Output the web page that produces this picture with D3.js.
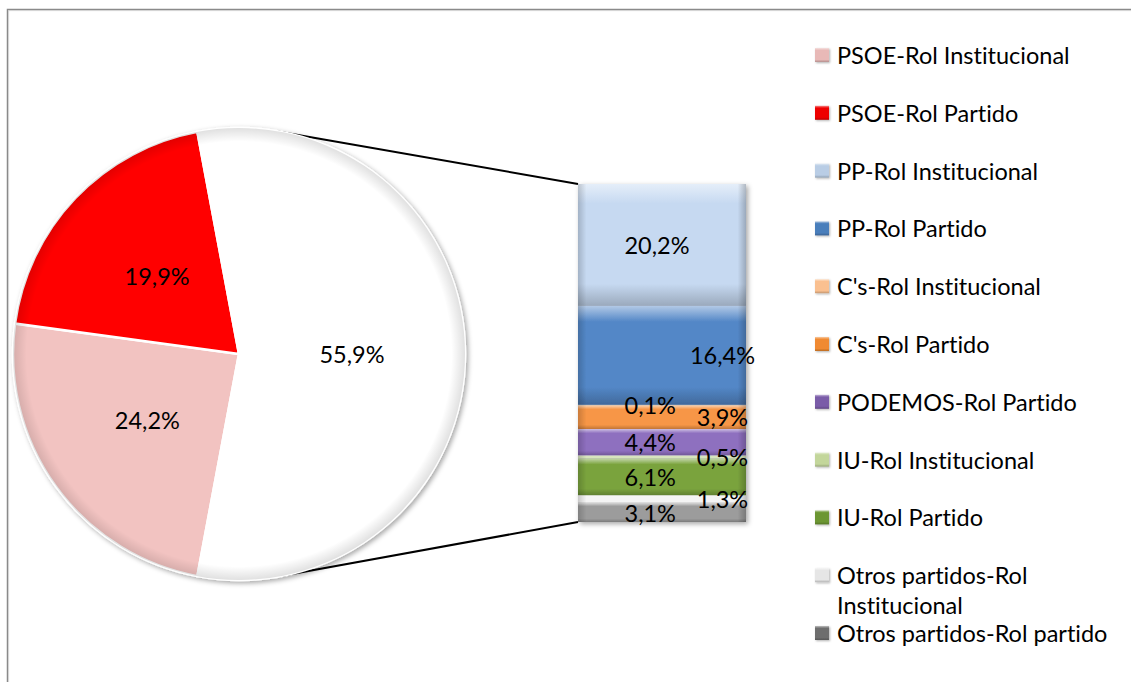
<!DOCTYPE html>
<html><head><meta charset="utf-8">
<script src="https://cdn.jsdelivr.net/npm/d3@7"></script>
<style>html,body{margin:0;padding:0;background:#fff;overflow:hidden} text{font-variant-ligatures:none;font-feature-settings:"liga" 0,"clig" 0}</style>
</head><body>
<svg id="chart" width="1131" height="682"></svg>
<script>
// ---- data ----
const pieCategories = ["PSOE-Rol Institucional", "PSOE-Rol Partido", "Otros"];
const pieValues = [24.2, 19.9, 55.9];
const pieColors = ["#F2C3C1", "#FF0000", "#FFFFFF"];

const barCategories = ["PP-Rol Institucional", "PP-Rol Partido", "C's-Rol Institucional", "C's-Rol Partido",
  "PODEMOS-Rol Partido", "IU-Rol Institucional", "IU-Rol Partido", "Otros partidos-Rol Institucional",
  "Otros partidos-Rol partido"];
const barValues = [20.2, 16.4, 0.1, 3.9, 4.4, 0.5, 6.1, 1.3, 3.1];
const barColors = ["#C6D9F1", "#5387C7", "#FCD5B5", "#F79646", "#8E6FBF", "#D7E4BD", "#7AA33D", "#F4F4F4", "#9C9C9C"];

const legendLabels = [["PSOE-Rol Institucional"], ["PSOE-Rol Partido"], ["PP-Rol Institucional"], ["PP-Rol Partido"],
  ["C's-Rol Institucional"], ["C's-Rol Partido"], ["PODEMOS-Rol Partido"], ["IU-Rol Institucional"],
  ["IU-Rol Partido"], ["Otros partidos-Rol", "Institucional"], ["Otros partidos-Rol partido"]];
const legendColors = ["#E8B9B7", "#EE0000", "#B9CDE5", "#4A7EBB", "#FAC090", "#F08A30", "#7A5BA8", "#C3D69B", "#6C9632", "#E6E6E6", "#6E6E6E"];

const fmt = v => d3.format(".1f")(v).replace(".", ",") + "%";

// ---- layout ----
const svg = d3.select("#chart");
const FONT = "Lato, 'Open Sans', sans-serif";
const FS = 23.5;
const defs = svg.append("defs");

// frame
svg.append("rect").attr("x", 7.5).attr("y", 9.5).attr("width", 1200).attr("height", 800)
  .attr("fill", "none").attr("stroke", "#8a8a8a").attr("stroke-width", 1.5);
svg.append("rect").attr("x", 8.7).attr("y", 10.7).attr("width", 1200).attr("height", 800)
  .attr("fill", "none").attr("stroke", "#cfcfcf").attr("stroke-width", 0.8);

// filters
const sh = defs.append("filter").attr("id", "shadow").attr("x", "-10%").attr("y", "-10%").attr("width", "125%").attr("height", "125%");
sh.append("feDropShadow").attr("dx", 2).attr("dy", 2).attr("stdDeviation", 2.5).attr("flood-color", "#000").attr("flood-opacity", 0.35);
const sh2 = defs.append("filter").attr("id", "shadowSmall").attr("x", "-30%").attr("y", "-30%").attr("width", "170%").attr("height", "170%");
sh2.append("feDropShadow").attr("dx", 1).attr("dy", 1).attr("stdDeviation", 1.2).attr("flood-color", "#000").attr("flood-opacity", 0.3);

function bevel(id, color) {
  const c = d3.color(color);
  const g = defs.append("linearGradient").attr("id", id).attr("x1", 0).attr("y1", 0).attr("x2", 0).attr("y2", 1);
  g.append("stop").attr("offset", "0%").attr("stop-color", d3.interpolateRgb(color, "#fff")(0.55));
  g.append("stop").attr("offset", "16%").attr("stop-color", color);
  g.append("stop").attr("offset", "82%").attr("stop-color", color);
  g.append("stop").attr("offset", "100%").attr("stop-color", c.darker(0.7).formatHex());
  return `url(#${id})`;
}
const hg = defs.append("linearGradient").attr("id", "hedge").attr("x1", 0).attr("y1", 0).attr("x2", 1).attr("y2", 0);
hg.append("stop").attr("offset", "0%").attr("stop-color", "#000").attr("stop-opacity", 0.18);
hg.append("stop").attr("offset", "5%").attr("stop-color", "#000").attr("stop-opacity", 0);
hg.append("stop").attr("offset", "95%").attr("stop-color", "#000").attr("stop-opacity", 0);
hg.append("stop").attr("offset", "100%").attr("stop-color", "#000").attr("stop-opacity", 0.22);

// ---- pie ----
const cx = 239, cy = 354, R = 226;
const otherFrac = pieValues[2] / d3.sum(pieValues);
const start = Math.PI / 2 + Math.PI * otherFrac;
const pie = d3.pie().sort(null).value(d => d).startAngle(start).endAngle(start + 2 * Math.PI);
const arcs = pie(pieValues);
const arc = d3.arc().innerRadius(0).outerRadius(R);

// ---- bar scale ----
const barX = 578, barW = 168, barTop = 184, barBottom = 522;
const barTotal = d3.sum(barValues);
const y = d3.scaleLinear().domain([0, barTotal]).range([barTop, barBottom]);
const cum = d3.cumsum(barValues);

// connector lines (tangent to pie from bar corners)
function tangent(px, py, sign) {
  const dx = px - cx, dy = py - cy;
  const d = Math.hypot(dx, dy);
  const base = Math.atan2(dx, -dy);
  const a = base + sign * Math.acos(R / d);
  return [cx + R * Math.sin(a), cy - R * Math.cos(a)];
}
const t1 = tangent(barX, y(0), -1), t2 = tangent(barX, y(barTotal), 1);
svg.append("line").attr("x1", t1[0]).attr("y1", t1[1]).attr("x2", barX).attr("y2", y(0)).attr("stroke", "#000").attr("stroke-width", 2);
svg.append("line").attr("x1", t2[0]).attr("y1", t2[1]).attr("x2", barX).attr("y2", y(barTotal)).attr("stroke", "#000").attr("stroke-width", 2);

const rg = defs.append("radialGradient").attr("id", "rim").attr("cx", 0.5).attr("cy", 0.5).attr("r", 0.5);
rg.append("stop").attr("offset", "94%").attr("stop-color", "#000").attr("stop-opacity", 0);
rg.append("stop").attr("offset", "100%").attr("stop-color", "#000").attr("stop-opacity", 0.12);

const pg = svg.append("g").attr("transform", `translate(${cx},${cy})`);
pg.append("g").attr("filter", "url(#shadow)").selectAll("path").data(arcs).join("path")
  .attr("d", arc).attr("fill", (d, i) => pieColors[i]).attr("stroke", "#fff").attr("stroke-width", 2.5);
pg.append("circle").attr("r", R).attr("fill", "url(#rim)");
pg.selectAll("text").data(arcs).join("text")
  .attr("x", d => arc.centroid(d)[0]).attr("y", d => arc.centroid(d)[1])
  .attr("text-anchor", "middle").attr("dominant-baseline", "central")
  .attr("font-family", FONT).attr("font-size", FS).attr("fill", "#000")
  .text(d => fmt(d.data));

// ---- bar ----
const bg = svg.append("g");
const segs = barValues.map((v, i) => ({ v, i, y0: y(cum[i] - v), y1: y(cum[i]) }));
const sg = bg.append("g").attr("filter", "url(#shadow)");
sg.selectAll("rect.seg").data(segs).join("rect").attr("class", "seg")
  .attr("x", barX).attr("y", d => d.y0).attr("width", barW).attr("height", d => Math.max(0.6, d.y1 - d.y0))
  .attr("fill", d => bevel("bar" + d.i, barColors[d.i]));
sg.selectAll("rect.edge").data(segs).join("rect").attr("class", "edge")
  .attr("x", barX).attr("y", d => d.y0).attr("width", barW).attr("height", d => Math.max(0.6, d.y1 - d.y0))
  .attr("fill", "url(#hedge)");
bg.selectAll("text").data(segs).join("text")
  .attr("x", d => d.i === 0 ? barX + barW * 0.47 : (d.i % 2 === 0 ? barX + barW * 0.43 : barX + barW * 0.86))
  .attr("y", d => (d.y0 + d.y1) / 2)
  .attr("text-anchor", "middle").attr("dominant-baseline", "central")
  .attr("font-family", FONT).attr("font-size", FS).attr("fill", "#000")
  .text(d => fmt(d.v));

// ---- legend ----
const lg = svg.append("g");
const ly = d3.scaleLinear().domain([0, 1]).range([55, 55 + 57.8]);
legendLabels.forEach((lines, i) => {
  const yy = ly(i);
  lg.append("rect").attr("x", 815).attr("y", yy - 7).attr("width", 14).attr("height", 14)
    .attr("fill", bevel("leg" + i, legendColors[i])).attr("filter", "url(#shadowSmall)");
  const t = lg.append("text").attr("x", 837).attr("y", yy).attr("dominant-baseline", "central")
    .attr("font-family", FONT).attr("font-size", FS).attr("fill", "#000");
  lines.forEach((l, k) => t.append("tspan").attr("x", 837).attr("dy", k === 0 ? 0 : 30).text(l));
});
</script>
</body></html>
